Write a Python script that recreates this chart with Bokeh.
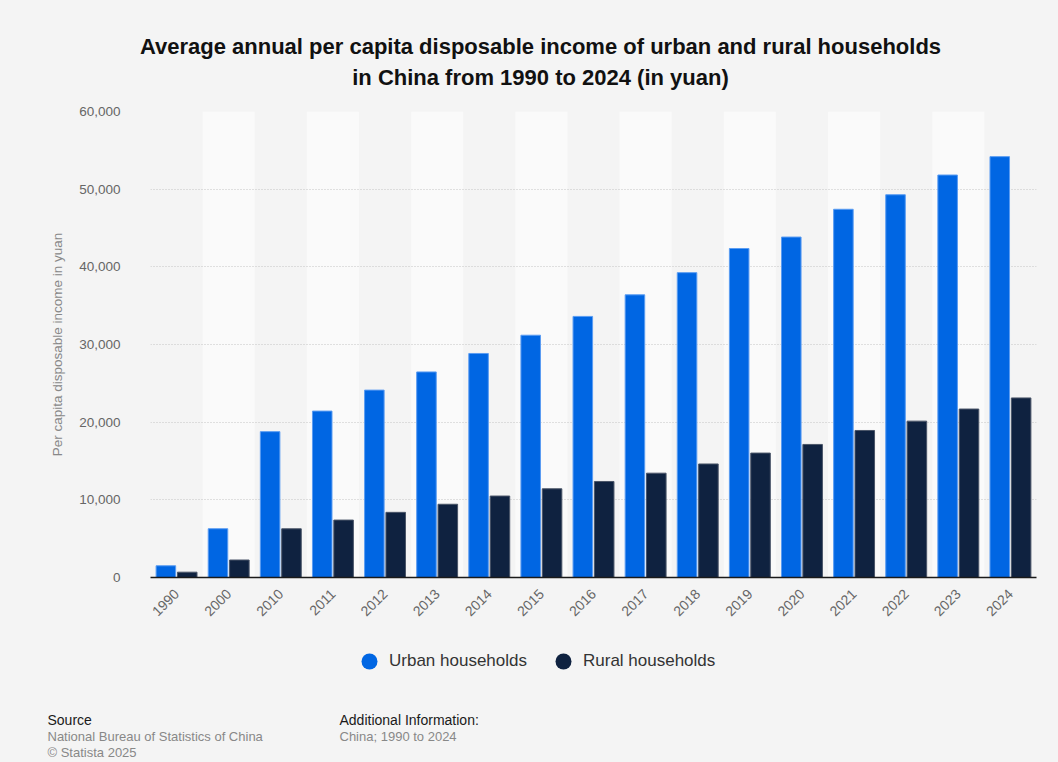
import math
from bokeh.plotting import figure
from bokeh.layouts import column
from bokeh.models import (ColumnDataSource, FactorRange, Range1d, Label, Legend, LegendItem,
                          FixedTicker, NumeralTickFormatter)
from bokeh.transform import dodge
from bokeh.embed import file_html
from bokeh.resources import INLINE

# ---------------- data ----------------
years = ["1990", "2000", "2010", "2011", "2012", "2013", "2014", "2015", "2016",
         "2017", "2018", "2019", "2020", "2021", "2022", "2023", "2024"]
urban = [1510, 6280, 18779, 21427, 24127, 26467, 28844, 31195, 33616,
         36396, 39251, 42359, 43834, 47412, 49283, 51821, 54188]
rural = [686, 2253, 6272, 7394, 8389, 9430, 10489, 11422, 12363,
         13432, 14617, 16021, 17131, 18931, 20133, 21691, 23119]
y_ticks = [0, 10000, 20000, 30000, 40000, 50000, 60000]
series_names = ["Urban households", "Rural households"]

title_lines = ["Average annual per capita disposable income of urban and rural households",
               "in China from 1990 to 2024 (in yuan)"]
y_label = "Per capita disposable income in yuan"
source_lines = ["Source", "National Bureau of Statistics of China", "\u00a9 Statista 2025"]
info_lines = ["Additional Information:", "China; 1990 to 2024"]

# ---------------- styling ----------------
BG = "#f4f4f4"
BAND = "#fafafa"
URBAN = "#0066e3"
RURAL = "#0f2240"
FONT = "Liberation Sans"

W = 1058
H_TOP, H_MAIN, H_BOT = 95, 545, 122          # 95 + 545 + 122 = 762
Y_MAIN, Y_BOT = H_TOP, H_TOP + H_MAIN          # page y of each panel's top


def blank_fig(h, y0):
    f = figure(width=W, height=h, x_range=Range1d(0, W), y_range=Range1d(y0 + h, y0),
               output_backend="svg", toolbar_location=None, frame_align=False,
               min_border=0, min_border_left=0, min_border_right=0,
               min_border_top=0, min_border_bottom=0)
    f.axis.visible = False
    f.grid.visible = False
    f.outline_line_color = None
    f.background_fill_color = BG
    f.border_fill_color = BG
    return f


def add_text(f, txt, px, py, size, color, bold=False, align="left"):
    f.add_layout(Label(x=px, y=py, text=txt, text_font=FONT, text_font_size=size,
                       text_color=color, text_font_style="bold" if bold else "normal",
                       text_align=align, text_baseline="alphabetic"))


# ---------------- title ----------------
top = blank_fig(H_TOP, 0)
add_text(top, title_lines[0], 540, 46, "22px", "#111111", bold=True, align="center")
add_text(top, title_lines[1], 540, 77, "22px", "#111111", bold=True, align="center")

# ---------------- main chart ----------------
src = ColumnDataSource(dict(year=years, urban=urban, rural=rural))
band_src = ColumnDataSource(dict(year=years[1::2], top=[y_ticks[-1]] * len(years[1::2])))

p = figure(width=W, height=H_MAIN, x_range=FactorRange(*years, range_padding=0),
           y_range=Range1d(0, y_ticks[-1]), output_backend="svg", toolbar_location=None,
           frame_align=False,
           min_border_left=150, min_border_right=22, min_border_top=111 - Y_MAIN,
           min_border_bottom=Y_BOT - 577)
p.background_fill_color = BG
p.border_fill_color = BG
p.outline_line_color = None

p.vbar(x="year", top="top", bottom=0, width=1.0, source=band_src,
       fill_color=BAND, line_color=None, level="underlay")

p.vbar(x=dodge("year", -0.205, range=p.x_range), top="urban", width=0.375, source=src,
       fill_color=URBAN, line_color="#5a9cf2", line_width=1)
p.vbar(x=dodge("year", 0.205, range=p.x_range), top="rural", width=0.375, source=src,
       fill_color=RURAL, line_color="#4a5568", line_width=1)

p.xgrid.grid_line_color = None
p.ygrid.grid_line_color = "#c4c4c4"
p.ygrid.grid_line_dash = "1 2"
p.ygrid.grid_line_width = 1
p.ygrid.ticker = FixedTicker(ticks=y_ticks)

ya = p.yaxis[0]
ya.ticker = FixedTicker(ticks=y_ticks)
ya.formatter = NumeralTickFormatter(format="0,0")
ya.axis_line_color = None
ya.major_tick_line_color = None
ya.minor_tick_line_color = None
ya.major_tick_out = 0
ya.major_label_standoff = 30
ya.major_label_text_font = FONT
ya.major_label_text_font_size = "13.5px"
ya.major_label_text_color = "#666666"
ya.axis_label = y_label
ya.axis_label_standoff = 11
ya.axis_label_text_font = FONT
ya.axis_label_text_font_size = "13.5px"
ya.axis_label_text_font_style = "normal"
ya.axis_label_text_color = "#888888"

xa = p.xaxis[0]
xa.axis_line_color = "#1a1a1a"
xa.axis_line_width = 1.5
xa.major_tick_line_color = None
xa.minor_tick_line_color = None
xa.major_tick_out = 0
xa.major_label_standoff = 14
xa.major_label_orientation = math.pi / 4
xa.major_label_text_font = FONT
xa.major_label_text_font_size = "14px"
xa.major_label_text_color = "#666666"

# ---------------- legend + footer ----------------
bot = blank_fig(H_BOT, Y_BOT)
nan = float("nan")
d_u = bot.scatter(x=[nan], y=[nan], marker="circle", size=16, fill_color=URBAN, line_color=None)
d_r = bot.scatter(x=[nan], y=[nan], marker="circle", size=16, fill_color=RURAL, line_color=None)
legend = Legend(items=[LegendItem(label=series_names[0], renderers=[d_u]),
                       LegendItem(label=series_names[1], renderers=[d_r])],
                orientation="horizontal", location=(349, (Y_BOT + H_BOT) - 681),
                glyph_width=40, glyph_height=40, label_standoff=0, spacing=16,
                padding=0, margin=0, border_line_color=None, background_fill_alpha=0,
                label_text_font=FONT, label_text_font_size="17px", label_text_color="#333333")
bot.add_layout(legend, "center")

add_text(bot, source_lines[0], 47, 719, "14px", "#1a1a1a")
add_text(bot, source_lines[1], 47, 736, "13px", "#888888")
add_text(bot, source_lines[2], 47, 752, "13px", "#888888")
add_text(bot, info_lines[0], 339, 719, "14px", "#1a1a1a")
add_text(bot, info_lines[1], 339, 736, "13px", "#888888")

layout = column(top, p, bot, spacing=0, styles={"background-color": BG})
open("out.html", "w").write(file_html(layout, INLINE))
